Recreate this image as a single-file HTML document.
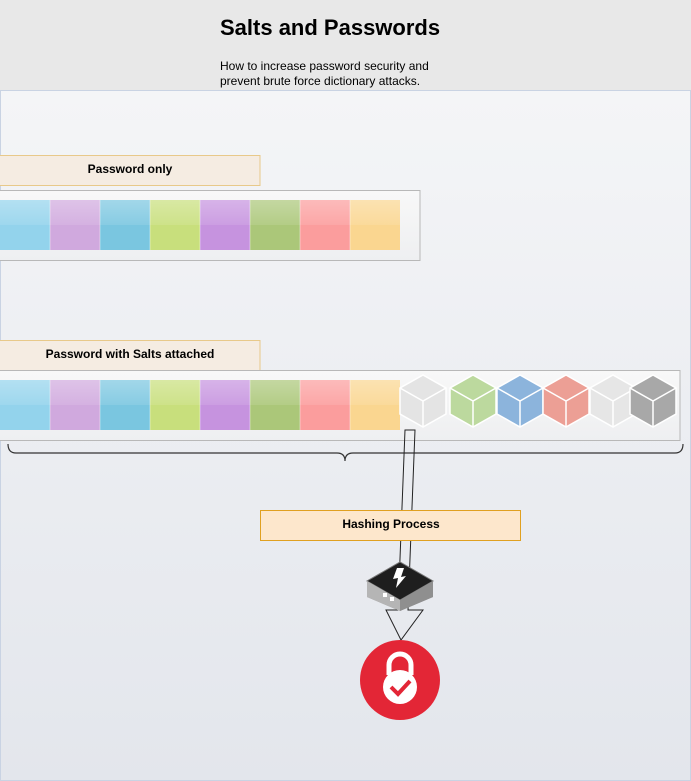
<!DOCTYPE html>
<html><head><meta charset="utf-8"><style>
html,body{margin:0;padding:0;width:691px;height:781px;overflow:hidden;background:#e8e8e8;font-family:"Liberation Sans",Arial,sans-serif}
</style></head><body>
<svg width="691" height="781" xmlns="http://www.w3.org/2000/svg" style="position:absolute;left:0;top:0">
<defs>
<linearGradient id="bg" x1="0" y1="0" x2="0" y2="1"><stop offset="0" stop-color="#f4f5f7"/><stop offset="1" stop-color="#e3e6ec"/></linearGradient>
<linearGradient id="cont" x1="0" y1="0" x2="0" y2="1"><stop offset="0" stop-color="#f8f8f8"/><stop offset="1" stop-color="#eeeff1"/></linearGradient>
<linearGradient id="gloss" x1="0" y1="0" x2="0" y2="1"><stop offset="0" stop-color="#fff" stop-opacity="0.3"/><stop offset="0.5" stop-color="#fff" stop-opacity="0.1"/><stop offset="0.5" stop-color="#fff" stop-opacity="0"/></linearGradient>
</defs>
<rect x="0" y="0" width="691" height="90" fill="#e8e8e8"/>
<rect x="0.5" y="90.5" width="690" height="690" fill="url(#bg)" stroke="#c9d3e3"/>
<text x="220" y="35" font-size="22" font-weight="bold" fill="#000">Salts and Passwords</text>
<text x="220" y="70" font-size="12" fill="#000">How to increase password security and</text>
<text x="220" y="85" font-size="12" fill="#000">prevent brute force dictionary attacks.</text>

<rect x="-1" y="155.5" width="261" height="30" fill="#f5ece2" stroke="#e8c98a"/>
<text x="130" y="173" font-size="12" font-weight="bold" text-anchor="middle">Password only</text>
<rect x="-1" y="190.5" width="421" height="70" fill="url(#cont)" stroke="#b8b8b8"/>
<g id="row">
<rect x="0" y="200" width="50" height="50" fill="#93d3ec"/>
<rect x="50" y="200" width="50" height="50" fill="#d0a9de"/>
<rect x="100" y="200" width="50" height="50" fill="#7ac6e0"/>
<rect x="150" y="200" width="50" height="50" fill="#c8df7c"/>
<rect x="200" y="200" width="50" height="50" fill="#c693df"/>
<rect x="250" y="200" width="50" height="50" fill="#abc779"/>
<rect x="300" y="200" width="50" height="50" fill="#fb9d9d"/>
<rect x="350" y="200" width="50" height="50" fill="#fad690"/>
<rect x="0" y="200" width="400" height="50" fill="url(#gloss)"/>
<path d="M50 200V250M100 200V250M150 200V250M200 200V250M250 200V250M300 200V250M350 200V250" stroke="#fff" stroke-opacity="0.4"/>
</g>

<rect x="-1" y="340.5" width="261" height="30" fill="#f5ece2" stroke="#e8c98a"/>
<text x="130" y="358" font-size="12" font-weight="bold" text-anchor="middle">Password with Salts attached</text>
<rect x="-1" y="370.5" width="681" height="70" fill="url(#cont)" stroke="#b8b8b8"/>
<use href="#row" y="180"/>
<g stroke="#fff" stroke-width="1.5">
<g transform="translate(423,375)"><path d="M0 0L23 13V39L0 52L-23 39V13Z" fill="#e4e4e4"/><path d="M-23 13L0 26L23 13M0 26V52" fill="none"/></g>
<g transform="translate(473,375)"><path d="M0 0L23 13V39L0 52L-23 39V13Z" fill="#bcd99e"/><path d="M-23 13L0 26L23 13M0 26V52" fill="none"/></g>
<g transform="translate(520,375)"><path d="M0 0L23 13V39L0 52L-23 39V13Z" fill="#8cb4dc"/><path d="M-23 13L0 26L23 13M0 26V52" fill="none"/></g>
<g transform="translate(566,375)"><path d="M0 0L23 13V39L0 52L-23 39V13Z" fill="#ec9f95"/><path d="M-23 13L0 26L23 13M0 26V52" fill="none"/></g>
<g transform="translate(613,375)"><path d="M0 0L23 13V39L0 52L-23 39V13Z" fill="#e6e6e6"/><path d="M-23 13L0 26L23 13M0 26V52" fill="none"/></g>
<g transform="translate(653,375)"><path d="M0 0L23 13V39L0 52L-23 39V13Z" fill="#a8a8a8"/><path d="M-23 13L0 26L23 13M0 26V52" fill="none"/></g>
</g>
<path d="M8 444Q8 453 16 453H337Q345 453 345 461Q345 453 353 453H675Q683 453 683 444" fill="none" stroke="#333" stroke-width="1.2"/>

<path d="M405 430H415L408 610H423L401 640L386 610H398Z" fill="none" stroke="#222" stroke-width="1"/>
<rect x="260.5" y="510.5" width="260" height="30" fill="#fde7cc" stroke="#e0a020"/>
<text x="391" y="528" font-size="12" font-weight="bold" text-anchor="middle">Hashing Process</text>

<g>
<path d="M367 581L400 562L433 581V597L400 611L367 597Z" fill="#9a9a9a"/>
<path d="M367 581L400 600L433 581L400 562Z" fill="#1e1e1e" stroke="#777" stroke-width="1"/>
<path d="M367 581L400 600V611L367 597Z" fill="#b5b5b5"/>
<path d="M400 600L433 581V597L400 611Z" fill="#8f8f8f"/>
<rect x="383" y="593" width="4" height="4" fill="#fff"/><rect x="390" y="597" width="4" height="4" fill="#fff"/>
<path d="M397 568L393 579L398 578L396 588L406 576L401 577L404 568Z" fill="#fff"/>
</g>

<circle cx="400" cy="680" r="40" fill="#e32636"/>
<path d="M389 675V665A11 11 0 0 1 411 665V675" fill="none" stroke="#fff" stroke-width="5"/>
<circle cx="400" cy="687" r="17" fill="#fff"/>
<path d="M391 687L398 694L410 681" fill="none" stroke="#e32636" stroke-width="4"/>
</svg>
</body></html>
